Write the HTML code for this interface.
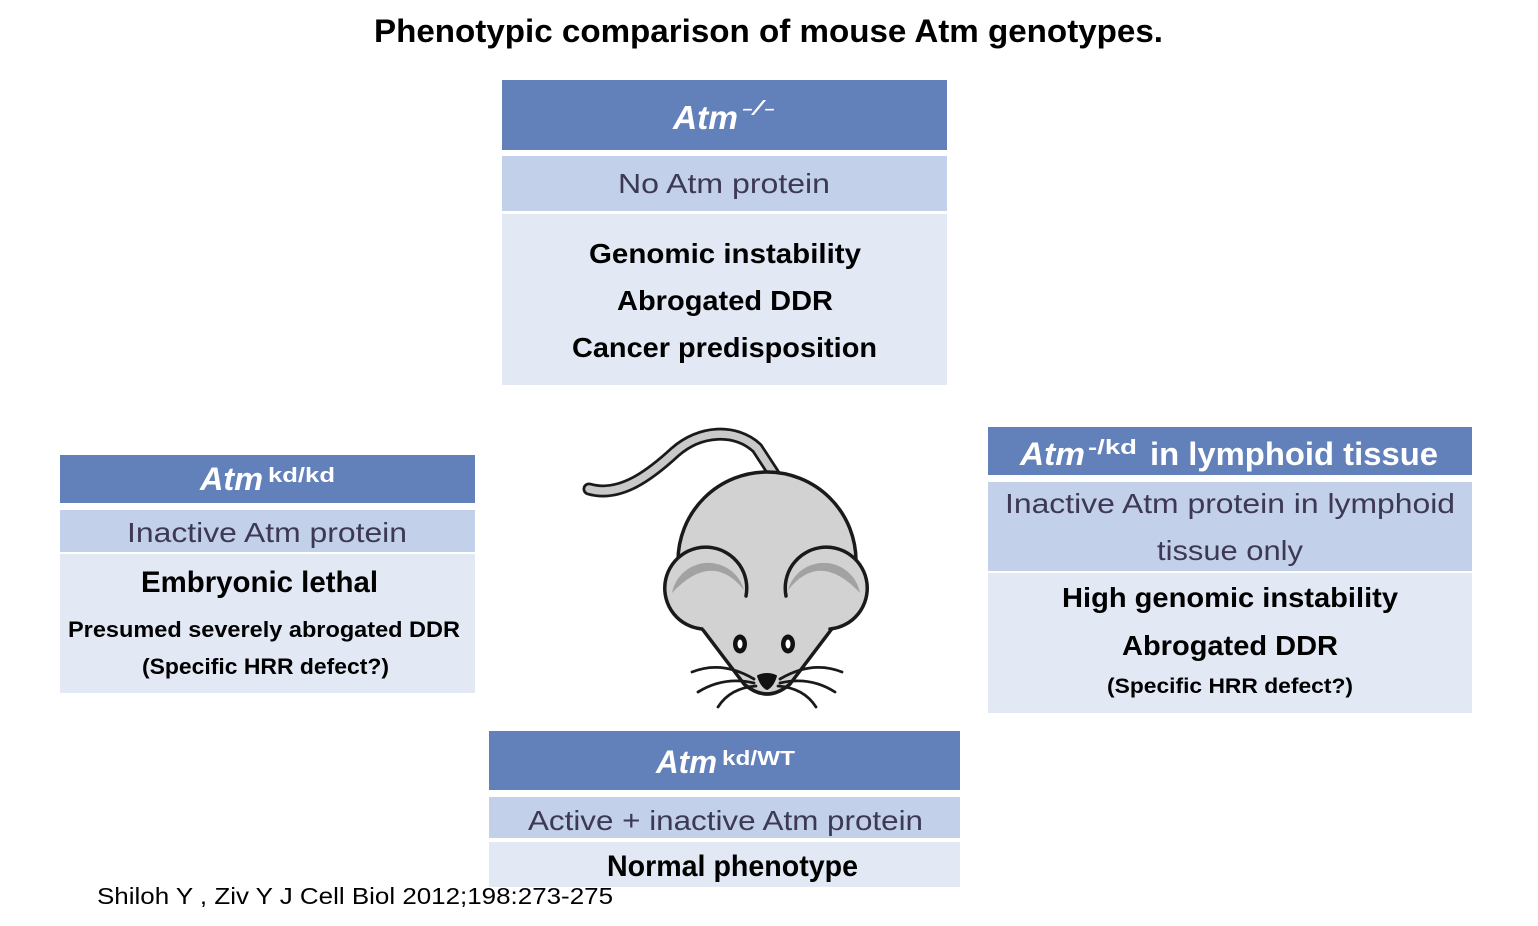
<!DOCTYPE html>
<html>
<head>
<meta charset="utf-8">
<style>
html,body{margin:0;padding:0;background:#fff;}
body{width:1538px;height:926px;overflow:hidden;}
svg{display:block;}
text{font-family:"Liberation Sans",Arial,sans-serif;}
</style>
</head>
<body>
<svg width="1538" height="926" viewBox="0 0 1538 926" xmlns="http://www.w3.org/2000/svg">
<rect width="1538" height="926" fill="#ffffff"/>

<!-- Title -->
<text x="374" y="42" font-size="32" font-weight="bold" fill="#000" textLength="789" lengthAdjust="spacingAndGlyphs">Phenotypic comparison of mouse Atm genotypes.</text>

<!-- Top box -->
<rect x="502" y="80" width="445" height="70" fill="#6281bb"/>
<rect x="502" y="156" width="445" height="55" fill="#c2d0e9"/>
<rect x="502" y="214" width="445" height="171" fill="#e2e9f5"/>
<text x="673" y="129" font-size="33" font-weight="bold" font-style="italic" fill="#fff" textLength="65" lengthAdjust="spacingAndGlyphs">Atm</text>
<text x="741" y="115" font-size="20" font-style="italic" fill="#fff" textLength="34" lengthAdjust="spacingAndGlyphs">-/-</text>
<text x="618" y="193" font-size="28" fill="#3d3853" textLength="212" lengthAdjust="spacingAndGlyphs">No Atm protein</text>
<text x="589" y="263" font-size="28" font-weight="bold" fill="#000" textLength="272" lengthAdjust="spacingAndGlyphs">Genomic instability</text>
<text x="617" y="310" font-size="28" font-weight="bold" fill="#000" textLength="216" lengthAdjust="spacingAndGlyphs">Abrogated DDR</text>
<text x="572" y="357" font-size="28" font-weight="bold" fill="#000" textLength="305" lengthAdjust="spacingAndGlyphs">Cancer predisposition</text>

<!-- Left box -->
<rect x="60" y="455" width="415" height="48" fill="#6281bb"/>
<rect x="60" y="510" width="415" height="42" fill="#c2d0e9"/>
<rect x="60" y="554" width="415" height="139" fill="#e2e9f5"/>
<text x="200" y="490" font-size="32" font-weight="bold" font-style="italic" fill="#fff" textLength="63" lengthAdjust="spacingAndGlyphs">Atm</text>
<text x="268" y="482" font-size="20" font-weight="bold" fill="#fff" textLength="67" lengthAdjust="spacingAndGlyphs">kd/kd</text>
<text x="127" y="542" font-size="28" fill="#3d3853" textLength="280" lengthAdjust="spacingAndGlyphs">Inactive Atm protein</text>
<text x="141" y="592" font-size="30" font-weight="bold" fill="#000" textLength="237" lengthAdjust="spacingAndGlyphs">Embryonic lethal</text>
<text x="68" y="637" font-size="22" font-weight="bold" fill="#000" textLength="392" lengthAdjust="spacingAndGlyphs">Presumed severely abrogated DDR</text>
<text x="142" y="674" font-size="22" font-weight="bold" fill="#000" textLength="247" lengthAdjust="spacingAndGlyphs">(Specific HRR defect?)</text>

<!-- Right box -->
<rect x="988" y="427" width="484" height="48" fill="#6281bb"/>
<rect x="988" y="482" width="484" height="89" fill="#c2d0e9"/>
<rect x="988" y="573" width="484" height="140" fill="#e2e9f5"/>
<text x="1020" y="465" font-size="32" font-weight="bold" font-style="italic" fill="#fff" textLength="65" lengthAdjust="spacingAndGlyphs">Atm</text>
<text x="1088" y="454" font-size="20" font-weight="bold" fill="#fff" textLength="49" lengthAdjust="spacingAndGlyphs">-/kd</text>
<text x="1150" y="465" font-size="32" font-weight="bold" fill="#fff" textLength="288" lengthAdjust="spacingAndGlyphs">in lymphoid tissue</text>
<text x="1005" y="513" font-size="28" fill="#3d3853" textLength="450" lengthAdjust="spacingAndGlyphs">Inactive Atm protein in lymphoid</text>
<text x="1157" y="560" font-size="28" fill="#3d3853" textLength="146" lengthAdjust="spacingAndGlyphs">tissue only</text>
<text x="1062" y="607" font-size="28" font-weight="bold" fill="#000" textLength="336" lengthAdjust="spacingAndGlyphs">High genomic instability</text>
<text x="1122" y="655" font-size="28" font-weight="bold" fill="#000" textLength="216" lengthAdjust="spacingAndGlyphs">Abrogated DDR</text>
<text x="1107" y="693" font-size="21" font-weight="bold" fill="#000" textLength="246" lengthAdjust="spacingAndGlyphs">(Specific HRR defect?)</text>

<!-- Bottom box -->
<rect x="489" y="731" width="471" height="59" fill="#6281bb"/>
<rect x="489" y="797" width="471" height="41" fill="#c2d0e9"/>
<rect x="489" y="842" width="471" height="45" fill="#e2e9f5"/>
<text x="656" y="773" font-size="32" font-weight="bold" font-style="italic" fill="#fff" textLength="61" lengthAdjust="spacingAndGlyphs">Atm</text>
<text x="722" y="765" font-size="20" font-weight="bold" fill="#fff" textLength="73" lengthAdjust="spacingAndGlyphs">kd/WT</text>
<text x="528" y="830" font-size="28" fill="#3d3853" textLength="395" lengthAdjust="spacingAndGlyphs">Active + inactive Atm protein</text>
<text x="607" y="876" font-size="30" font-weight="bold" fill="#000" textLength="251" lengthAdjust="spacingAndGlyphs">Normal phenotype</text>

<!-- Citation -->
<text x="97" y="904" font-size="23" fill="#000" textLength="516" lengthAdjust="spacingAndGlyphs">Shiloh Y , Ziv Y J Cell Biol 2012;198:273-275</text>

<!-- Mouse -->
<g stroke-linecap="round" stroke-linejoin="round">
  <!-- tail -->
  <path d="M 589 489 C 620 498, 650 475, 675 452 C 700 430, 735 428, 757 448 L 774 474" fill="none" stroke="#1a1a1a" stroke-width="13"/>
  <path d="M 589 489 C 620 498, 650 475, 675 452 C 700 430, 735 428, 757 448 L 774 474" fill="none" stroke="#c9c9c9" stroke-width="7.5"/>
  <!-- body -->
  <circle cx="767" cy="561" r="89" fill="#d2d2d2" stroke="#1a1a1a" stroke-width="3.5"/>
  <!-- head lower -->
  <path d="M 682 560 L 852 560 L 834 626 L 790 684 Q 767 704 744 684 L 700 626 Z" fill="#d2d2d2"/>
  <path d="M 744 684 Q 767 704 790 684 L 787 688 Q 767 702 747 688 Z" fill="#9a9a9a"/>
  <path d="M 700 626 L 744 684 Q 767 704 790 684 L 834 626" fill="none" stroke="#1a1a1a" stroke-width="3.5"/>
  <!-- left ear -->
  <circle cx="706" cy="588" r="41" fill="#d2d2d2"/>
  <path d="M 672 593 A 37 37 0 0 1 744 590 Q 712 550 672 593 Z" fill="#a2a2a2"/>
  <path d="M 746 596 A 41 41 0 1 0 702 629" fill="none" stroke="#1a1a1a" stroke-width="3.5"/>
  <!-- right ear (mirrored) -->
  <g transform="translate(1532,0) scale(-1,1)">
    <circle cx="706" cy="588" r="41" fill="#d2d2d2"/>
    <path d="M 672 593 A 37 37 0 0 1 744 590 Q 712 550 672 593 Z" fill="#a2a2a2"/>
    <path d="M 746 596 A 41 41 0 1 0 702 629" fill="none" stroke="#1a1a1a" stroke-width="3.5"/>
  </g>
  <!-- eyes -->
  <ellipse cx="740" cy="644" rx="7" ry="9.5" fill="#111"/>
  <ellipse cx="740" cy="644" rx="2.5" ry="4.5" fill="#fff"/>
  <ellipse cx="788" cy="644" rx="7" ry="9.5" fill="#111"/>
  <ellipse cx="788" cy="644" rx="2.5" ry="4.5" fill="#fff"/>
  <!-- nose -->
  <path d="M 758 676 Q 767 672 776 676 Q 773 686 767 689 Q 761 686 758 676 Z" fill="#111" stroke="#111" stroke-width="2"/>
  <!-- whiskers -->
  <g fill="none" stroke="#1a1a1a" stroke-width="2.8">
    <path d="M 754 679 Q 722 660 692 672"/>
    <path d="M 754 683 Q 724 676 698 692"/>
    <path d="M 756 686 Q 730 688 718 707"/>
    <path d="M 780 679 Q 812 660 842 672"/>
    <path d="M 780 683 Q 810 676 835 692"/>
    <path d="M 778 686 Q 804 688 816 707"/>
  </g>
</g>
</svg>
</body>
</html>
